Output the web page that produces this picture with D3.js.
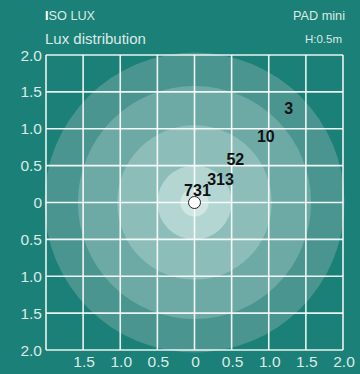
<!DOCTYPE html>
<html>
<head>
<meta charset="utf-8">
<script src="https://cdn.jsdelivr.net/npm/d3@7"></script>
<style>
html,body{margin:0;padding:0;background:#1b8077;}
svg{display:block;font-family:"Liberation Sans",Arial,sans-serif;}
</style>
</head>
<body>
<svg id="chart" width="360" height="374"></svg>
<script>
// Data
const ticks = [-2, -1.5, -1, -0.5, 0, 0.5, 1, 1.5, 2];
const tickLabels = ["2.0","1.5","1.0","0.5","0","0.5","1.0","1.5","2.0"];
const ringRadii = [2.02, 1.57, 1.04, 0.5, 0.19];
const ringColors = ["#4a958f", "#6eaaa5", "#8dbdb9", "#b3d6d3", "#cfe6e3"];
const luxValues = ["731", "313", "52", "10", "3"];
const luxX = [0.04, 0.35, 0.55, 0.96, 1.27];
const luxY = [0.16, 0.32, 0.59, 0.90, 1.28];

const svg = d3.select("#chart");
const x = d3.scaleLinear().domain([-2, 2]).range([46, 343]);
const y = d3.scaleLinear().domain([-2, 2]).range([350, 55]);
const txt = "#dcebe8";

// rings
svg.append("g").selectAll("circle").data(ringRadii).join("circle")
  .attr("cx", x(0)).attr("cy", y(0))
  .attr("r", d => x(d) - x(0))
  .attr("fill", (d, i) => ringColors[i]);

// grid
const g = svg.append("g").attr("stroke", "#ffffff").attr("stroke-opacity", 0.9).attr("stroke-width", 1.6);
g.selectAll("line.v").data(ticks).join("line").attr("class", "v")
  .attr("x1", d => x(d)).attr("x2", d => x(d)).attr("y1", y(2)).attr("y2", y(-2));
g.selectAll("line.h").data(ticks).join("line").attr("class", "h")
  .attr("y1", d => y(d)).attr("y2", d => y(d)).attr("x1", x(-2)).attr("x2", x(2));

// y axis labels
svg.append("g").selectAll("text").data(ticks).join("text")
  .attr("x", 42).attr("y", d => y(-d)).attr("dy", "0.36em")
  .attr("text-anchor", "end").attr("font-size", 15.5).attr("fill", txt)
  .text((d, i) => tickLabels[i]);

// x axis labels (skip leftmost)
svg.append("g").selectAll("text").data(ticks.slice(1)).join("text")
  .attr("x", d => x(d) + 1).attr("y", 367)
  .attr("text-anchor", "middle").attr("font-size", 15.5).attr("fill", txt)
  .text((d, i) => tickLabels[i + 1]);

// center point
svg.append("circle").attr("cx", x(0)).attr("cy", y(0)).attr("r", 6)
  .attr("fill", "#ffffff").attr("stroke", "#222").attr("stroke-width", 1);

// lux labels
svg.append("g").selectAll("text").data(luxValues).join("text")
  .attr("x", (d, i) => x(luxX[i])).attr("y", (d, i) => y(luxY[i])).attr("dy", "0.36em")
  .attr("text-anchor", "middle").attr("font-size", 16).attr("font-weight", "bold")
  .attr("fill", "#111").text(d => d);

// titles
const t1 = svg.append("text").attr("x", 45).attr("y", 20).attr("font-size", 12.7).attr("fill", txt);
t1.append("tspan").attr("fill", "#ffffff").attr("font-weight", "bold").text("I");
t1.append("tspan").text("SO LUX");
svg.append("text").attr("x", 45).attr("y", 44).attr("font-size", 15).attr("fill", txt).text("Lux distribution");
svg.append("text").attr("x", 345).attr("y", 20).attr("font-size", 12.7).attr("fill", txt).attr("text-anchor", "end").text("PAD mini");
svg.append("text").attr("x", 342).attr("y", 43).attr("font-size", 11.5).attr("fill", txt).attr("text-anchor", "end").text("H:0.5m");
</script>
</body>
</html>
